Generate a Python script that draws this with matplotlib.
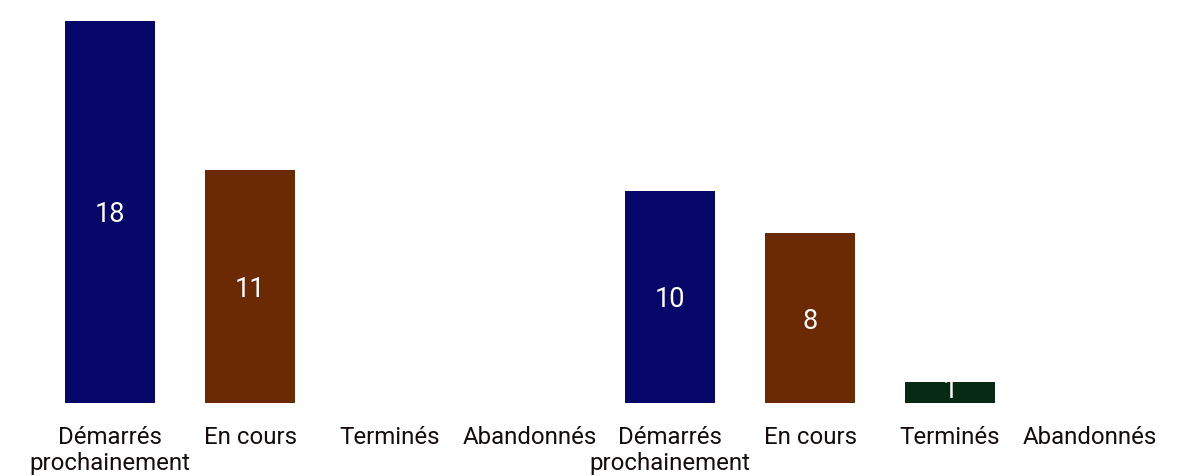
import matplotlib
matplotlib.use("Agg")
import matplotlib.pyplot as plt

categories = ["Démarrés\nprochainement", "En cours", "Terminés", "Abandonnés"]
group_a = [18, 11, 0, 0]
group_b = [10, 8, 1, 0]
colors = ["#07076a", "#6b2a04", "#062a14", "#6b6b6b"]

plt.rcParams["font.family"] = ["Roboto", "DejaVu Sans"]

labels = categories + categories
values = group_a + group_b
bar_colors = colors + colors
x = list(range(len(values)))

fig = plt.figure(figsize=(11.91, 4.76), dpi=100)
ax = fig.add_axes([40 / 1191, 73 / 476, 1120 / 1191, 382 / 476])

ax.bar(x, values, width=0.643, color=bar_colors)
for xi, v in zip(x, values):
    ax.text(xi, max(v / 2, 0.72), str(v), ha="center", va="center_baseline",
            color="white", fontsize=19.5)

ax.set_xlim(-0.5, len(values) - 0.5)
ax.set_ylim(0, 18)
ax.set_xticks(x)
ax.set_xticklabels(labels, fontsize=17.3, color="#150c0c", linespacing=1.18)
ax.tick_params(axis="x", length=0, pad=16.5)
ax.set_yticks([])
for s in ax.spines.values():
    s.set_visible(False)

fig.savefig("out.png", dpi=100)
